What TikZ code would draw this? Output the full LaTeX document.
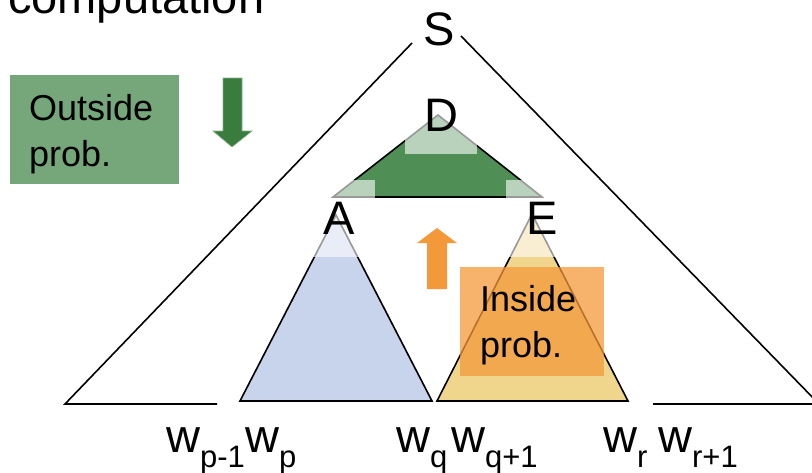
\documentclass[tikz,border=0pt]{standalone}
\usepackage{fontspec}
\setmainfont{Liberation Sans}
\definecolor{bluefill}{HTML}{C8D4EB}
\definecolor{yellowfill}{HTML}{F0D68C}
\definecolor{greentri}{HTML}{4F8F55}
\definecolor{outgreen}{HTML}{76A77A}
\definecolor{darkgreen}{HTML}{3A7B3E}
\definecolor{orangeA}{HTML}{F4993A}
\newcommand\wsb[1]{w\raisebox{-15pt}{\fontsize{31}{31}\selectfont #1}}
\begin{document}
\begin{tikzpicture}[x=1pt,y=-1pt,
  tri/.style={draw=black, line width=1.6pt, line join=miter},
  mainline/.style={draw=black, line width=1.6pt},
  lbl/.style={fill=white, fill opacity=0.6, text opacity=1, minimum width=72pt,
    minimum height=77pt, inner sep=0pt, font=\fontsize{47}{47}\selectfont},
  wlab/.style={anchor=base west, inner sep=0pt, font=\fontsize{47}{47}\selectfont},
  boxtxt/.style={anchor=base west, align=left, inner sep=0pt, font=\fontsize{36}{46}\selectfont}]
\useasboundingbox (0,0) rectangle (812,472);
\clip (0,0) rectangle (812,472);
% title (cropped)
\node[anchor=base west, inner sep=0pt, font=\fontsize{47}{47}\selectfont] (title) at (8,13) {computation};
% main triangle
\coordinate (sl) at (412,43);
\coordinate (sr) at (461,36);
\coordinate (bl) at (65,404);
\coordinate (blend) at (217,404);
\coordinate (brstart) at (653,404);
\coordinate (br) at (819,404);
\draw[mainline] (sl) -- (bl) -- (blend);
\draw[mainline] (sr) -- (br) -- (brstart);
\node[anchor=base, inner sep=0pt, font=\fontsize{47}{47}\selectfont] (S) at (439,45) {S};
% subtrees
\draw[tri, fill=bluefill] (336,215) -- (240,401) -- (432,401) -- cycle;
\draw[tri, fill=yellowfill] (532,214) -- (437,401) -- (628,401) -- cycle;
\draw[tri, fill=greentri] (438,115) -- (333,197) -- (542,197) -- cycle;
% labels with translucent white boxes
\node[lbl] (D) at (441,115) {D};
\node[lbl] (A) at (339,218) {A};
\node[lbl] (E) at (542,218) {E};
% inside box
\node[fill=orangeA, fill opacity=0.75, minimum width=144pt, minimum height=109pt, inner sep=0pt] (inbox) at (532,321.5) {};
\node[boxtxt] (intxt) at (480,357) {Inside\\prob.};
% outside box
\node[fill=outgreen, minimum width=169pt, minimum height=109pt, inner sep=0pt] (outbox) at (94.5,129.5) {};
\node[boxtxt] (outtxt) at (29,166) {Outside\\prob.};
% arrows
\fill[darkgreen, draw=darkgreen!60!white, line width=0.6pt] (223,78) -- (242,78) -- (242,131) -- (252,131) -- (232,147) -- (213,131) -- (223,131) -- cycle;
\fill[orangeA] (437,228) -- (457,243) -- (447,243) -- (447,289) -- (427,289) -- (427,243) -- (417,243) -- cycle;
% word labels
\node[wlab] (w1) at (166,452) {\wsb{p-1}};
\node[wlab] (w2) at (245,452) {\wsb{p}};
\node[wlab] (w3) at (396,452) {\wsb{q}};
\node[wlab] (w4) at (451,452) {\wsb{q+1}};
\node[wlab] (w5) at (603,452) {\wsb{r}};
\node[wlab] (w6) at (658,452) {\wsb{r+1}};
\end{tikzpicture}
\end{document}
